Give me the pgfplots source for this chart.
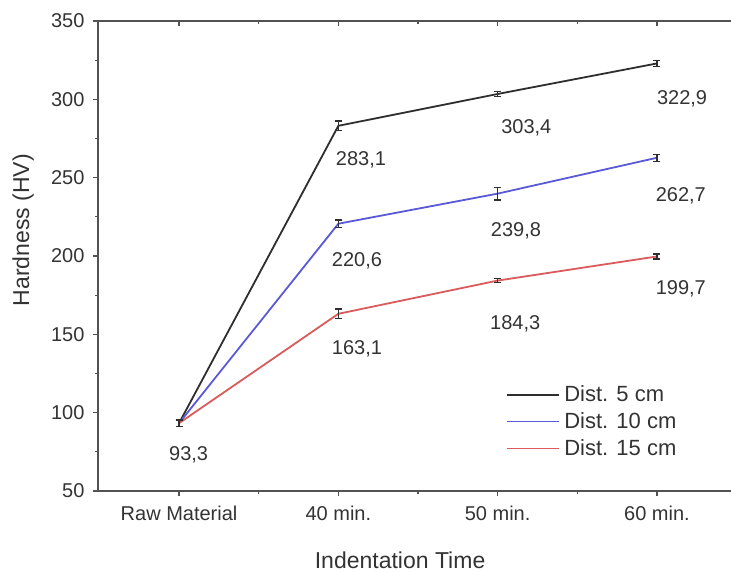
\documentclass[border=0pt]{standalone}
\usepackage{pgfplots}
\pgfplotsset{compat=1.18}
\usepackage{fontspec}
\setmainfont{Liberation Sans}
\definecolor{txt}{HTML}{333333}
\definecolor{cblack}{HTML}{2E2E2E}
\definecolor{cblue}{HTML}{5A5AD6}
\definecolor{cred}{HTML}{D95B5B}
\begin{document}
\begin{tikzpicture}[x=1pt,y=1pt]
\pgfplotsset{
  common/.style={
    scale only axis, width=640pt, height=470pt,
    at={(98pt,81pt)}, anchor=south west,
    xmin=-0.509, xmax=3.509, ymin=50, ymax=350,
    xtick={0,1,2,3}, minor xtick={0.5,1.5,2.5},
    ytick={50,100,...,350}, minor ytick={75,125,...,325},
    axis line style={line width=1.8pt, color=txt!85},
    every tick/.style={line width=1.3pt, color=txt!85},
    major tick length=5pt, minor tick length=3pt,
  },
  ebar/.style={error bars/.cd, y dir=both, y explicit,
    error bar style={line width=1.4pt, cblack},
    error mark options={rotate=90, mark size=3.5pt, line width=1.4pt, cblack}},
}
\begin{axis}[common,
  tick pos=left, tick align=outside,
  xticklabels={Raw Material, 40 min., 50 min., 60 min.},
  tick label style={font=\fontsize{20}{22}\selectfont, text=txt},
  xticklabel style={yshift=-6pt},
  yticklabel style={xshift=-5pt},
  /pgf/number format/assume math mode=true,
  xlabel={Indentation Time}, ylabel={Hardness (HV)},
  label style={font=\fontsize{23}{26}\selectfont, text=txt},
  xlabel style={at={(axis description cs:0.472,-0.147)}, anchor=center},
  ylabel style={at={(axis description cs:-0.117,0.555)}, anchor=center},
  legend style={at={(0.638,0.224)}, anchor=north west, draw=none, fill=none,
    font=\fontsize{22}{25}\selectfont, text=txt, row sep=9.5pt,
    legend cell align=left, inner sep=0pt,
    nodes={inner xsep=4pt, inner ysep=0pt}},
  legend image code/.code={\draw[#1] (0pt,0pt) -- (52pt,0pt);},
  clip=false,
]
\addplot[cblack, line width=1.8pt, mark=none, ebar]
  coordinates {(0,93.3) +- (0,2) (1,283.1) +- (0,3) (2,303.4) +- (0,1.5) (3,322.9) +- (0,1.8)};
\addlegendentry{Dist. 5 cm}
\addplot[cblue, line width=1.8pt, mark=none, ebar]
  coordinates {(0,93.3) +- (0,2) (1,220.6) +- (0,2.5) (2,239.8) +- (0,4) (3,262.7) +- (0,2.2)};
\addlegendentry{Dist. 10 cm}
\addplot[cred, line width=1.8pt, mark=none, ebar]
  coordinates {(0,93.3) +- (0,2) (1,163.1) +- (0,3) (2,184.3) +- (0,1.2) (3,199.7) +- (0,1.5)};
\addlegendentry{Dist. 15 cm}
\begin{scope}[every node/.style={font=\fontsize{20}{22}\selectfont, text=txt}]
\node at (axis cs:0.06,73.3) {93,3};
\node at (axis cs:1.142,261.6) {283,1};
\node at (axis cs:2.18,281.7) {303,4};
\node at (axis cs:3.158,300.5) {322,9};
\node at (axis cs:1.117,197.1) {220,6};
\node at (axis cs:2.115,216.3) {239,8};
\node at (axis cs:3.15,238.3) {262,7};
\node at (axis cs:1.117,140.6) {163,1};
\node at (axis cs:2.11,156.6) {184,3};
\node at (axis cs:3.15,179) {199,7};
\end{scope}
\end{axis}
\begin{axis}[common,
  tick pos=right, tick align=inside,
  xticklabels={}, yticklabels={},
  axis line style={draw=none},
]
\end{axis}
\pgfresetboundingbox
\useasboundingbox (0,0) rectangle (731pt,572pt);
\end{tikzpicture}
\end{document}
